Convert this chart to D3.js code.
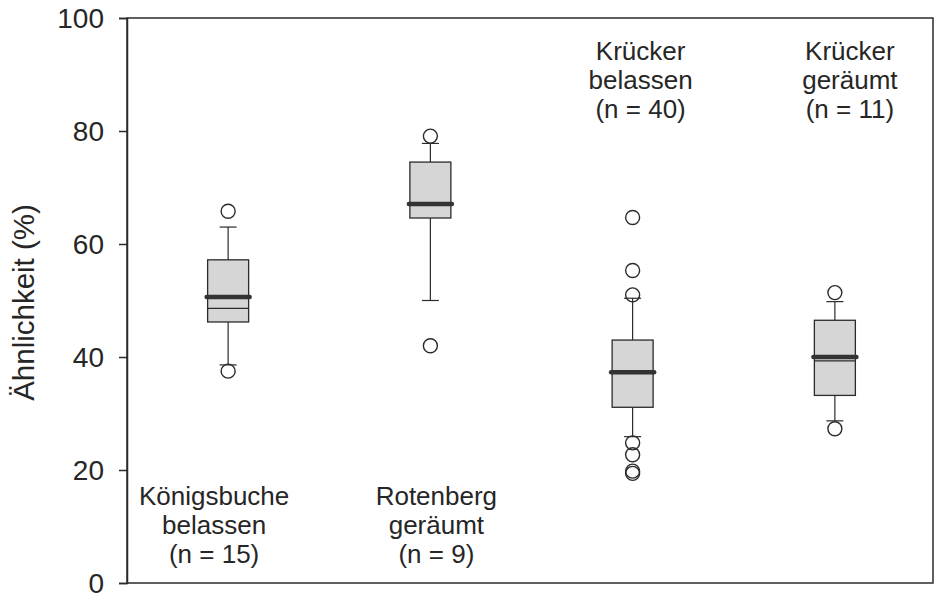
<!DOCTYPE html>
<html>
<head>
<meta charset="utf-8">
<script src="https://cdn.jsdelivr.net/npm/d3@7"></script>
<style>
  html, body { margin: 0; padding: 0; background: #fff; }
  svg { display: block; }
  text { font-family: "Liberation Sans", Arial, sans-serif; fill: #262626; }
</style>
</head>
<body>
<svg id="chart" width="940" height="597"></svg>
<script>
// ---- data ----
const groups = ["Königsbuche belassen", "Rotenberg geräumt", "Krücker belassen", "Krücker geräumt"];
const groupLabels = [
  ["Königsbuche", "belassen", "(n = 15)"],
  ["Rotenberg", "geräumt", "(n = 9)"],
  ["Krücker", "belassen", "(n = 40)"],
  ["Krücker", "geräumt", "(n = 11)"]
];
const whiskerLow  = [38.6, 50.0, 25.9, 28.7];
const q1          = [46.2, 64.6, 31.1, 33.2];
const median      = [50.6, 67.1, 37.3, 40.0];
const mean        = [48.6, 67.1, 37.3, 39.3];
const q3          = [57.2, 74.5, 43.0, 46.5];
const whiskerHigh = [63.0, 77.8, 50.4, 49.8];
const outliers = [
  [65.8, 37.5],
  [79.1, 42.0],
  [64.7, 55.3, 51.0, 24.8, 22.7, 19.8, 19.4],
  [51.4, 27.3]
];
const yTicks = [0, 20, 40, 60, 80, 100];
const yTitle = "Ähnlichkeit (%)";

// ---- layout ----
(function () {
const svg = d3.select("#chart");
const pL = 127, pR = 933, pT = 18, pB = 583;
const x = d3.scalePoint().domain(groups).range([pL, pR + 3]).padding(0.5);
const y = d3.scaleLinear().domain([0, 100]).range([pB, pT]);
const boxW = 41, capW = 17, r = 7;
const ink = "#2b2b2b";

const labelPos = [
  { dx: -14, base: 505 },
  { dx: 6,   base: 505 },
  { dx: 8,   base: 60 },
  { dx: 15,  base: 60 }
];

// frame
svg.append("rect")
  .attr("x", pL).attr("y", pT)
  .attr("width", pR - pL).attr("height", pB - pT)
  .attr("fill", "none").attr("stroke", ink).attr("stroke-width", 1.5);

// y axis
const yAxis = d3.axisLeft(y).tickValues(yTicks).tickSize(8).tickPadding(15).tickFormat(d3.format("d"));
const gy = svg.append("g").attr("transform", `translate(${pL},0)`).call(yAxis);
gy.select(".domain").attr("stroke", ink).attr("stroke-width", 1.5);
gy.selectAll(".tick line").attr("stroke", ink).attr("stroke-width", 1.5);
gy.selectAll(".tick text")
  .style("font-family", '"Liberation Sans", Arial, sans-serif')
  .attr("font-size", 28).attr("fill", "#262626").attr("dy", "0.35em");

// y title
svg.append("text")
  .attr("transform", `translate(34,${(pT + pB) / 2 + 2}) rotate(-90)`)
  .attr("text-anchor", "middle")
  .attr("font-size", 29.5)
  .text(yTitle);

// boxes
groups.forEach((g, i) => {
  const cx = x(g);
  const gg = svg.append("g");
  gg.append("line").attr("x1", cx).attr("x2", cx)
    .attr("y1", y(q3[i])).attr("y2", y(whiskerHigh[i]))
    .attr("stroke", ink).attr("stroke-width", 1.2);
  gg.append("line").attr("x1", cx).attr("x2", cx)
    .attr("y1", y(q1[i])).attr("y2", y(whiskerLow[i]))
    .attr("stroke", ink).attr("stroke-width", 1.2);
  [whiskerHigh[i], whiskerLow[i]].forEach(v => {
    gg.append("line").attr("x1", cx - capW / 2).attr("x2", cx + capW / 2)
      .attr("y1", y(v)).attr("y2", y(v))
      .attr("stroke", ink).attr("stroke-width", 1.2);
  });
  gg.append("rect")
    .attr("x", cx - boxW / 2).attr("y", y(q3[i]))
    .attr("width", boxW).attr("height", y(q1[i]) - y(q3[i]))
    .attr("fill", "#d6d6d6").attr("stroke", ink).attr("stroke-width", 1.3);
  gg.append("line").attr("x1", cx - boxW / 2).attr("x2", cx + boxW / 2)
    .attr("y1", y(mean[i])).attr("y2", y(mean[i]))
    .attr("stroke", ink).attr("stroke-width", 1.2);
  gg.append("line").attr("x1", cx - boxW / 2 - 1).attr("x2", cx + boxW / 2 + 1)
    .attr("y1", y(median[i])).attr("y2", y(median[i]))
    .attr("stroke", "#333").attr("stroke-width", 4.5).attr("stroke-linecap", "round");
  gg.selectAll("circle.o").data(outliers[i]).enter().append("circle")
    .attr("cx", cx).attr("cy", d => y(d)).attr("r", r)
    .attr("fill", "none").attr("stroke", ink).attr("stroke-width", 1.4);
  const lp = labelPos[i];
  const t = svg.append("text").attr("text-anchor", "middle").attr("font-size", 26);
  groupLabels[i].forEach((line, k) => {
    t.append("tspan").attr("x", cx + lp.dx).attr("y", lp.base + k * 29).text(line);
  });
});
})();
</script>
</body>
</html>
